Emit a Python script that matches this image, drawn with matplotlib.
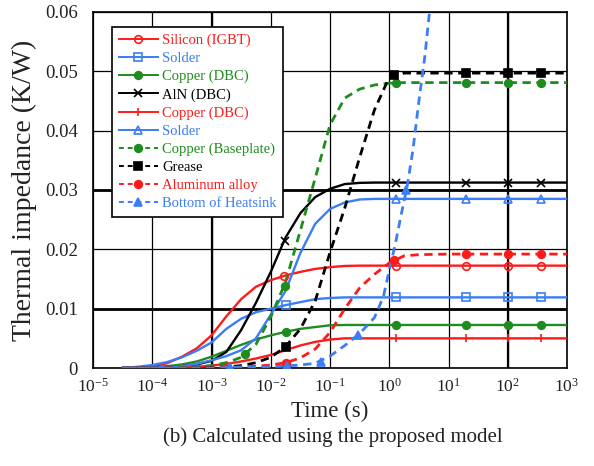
import numpy as np
import matplotlib
matplotlib.use("Agg")
import matplotlib.pyplot as plt
from matplotlib.lines import Line2D

plt.rcParams['font.family'] = ['Liberation Serif', 'DejaVu Serif']
plt.rcParams['mathtext.fontset'] = 'stix'

# common time grid (log10 of seconds)
log_t = [-4.5, -4.25, -4.0, -3.75, -3.5, -3.25, -3.0, -2.75, -2.5, -2.25, -2.0, -1.75,
         -1.5, -1.25, -1.0, -0.75, -0.5, -0.25, 0.0, 0.25, 0.5, 1.0, 2.0, 3.0]

silicon = [0, 0.0001, 0.0003, 0.0008, 0.0019, 0.0033, 0.0055, 0.0087, 0.0116, 0.0137, 0.0148, 0.0156,
           0.0162, 0.0167, 0.0170, 0.0172, 0.01725, 0.01725, 0.01725, 0.01725, 0.01725, 0.01725, 0.01725, 0.01725]
solder1 = [0, 0.0002, 0.0005, 0.0010, 0.0018, 0.0029, 0.0043, 0.0066, 0.0083, 0.0094, 0.0100, 0.0106,
           0.0111, 0.0116, 0.0118, 0.0119, 0.0119, 0.0119, 0.0119, 0.0119, 0.0119, 0.0119, 0.0119, 0.0119]
copper_dbc1 = [0, 0, 0.0001, 0.0003, 0.0006, 0.0011, 0.0019, 0.0029, 0.0039, 0.0048, 0.0055, 0.0061,
               0.0066, 0.0069, 0.0072, 0.00725, 0.00725, 0.00725, 0.00725, 0.00725, 0.00725, 0.00725, 0.00725, 0.00725]
aln = [0, 0, 0.0001, 0.0002, 0.0003, 0.0006, 0.0012, 0.0027, 0.0064, 0.0110, 0.0162, 0.0220,
       0.0261, 0.0288, 0.0302, 0.0310, 0.0312, 0.03125, 0.03125, 0.03125, 0.03125, 0.03125, 0.03125, 0.03125]
copper_dbc2 = [0, 0, 0, 0, 0.0001, 0.0002, 0.0004, 0.0007, 0.0011, 0.0016, 0.0022, 0.0030,
               0.0038, 0.0044, 0.0048, 0.0050, 0.0050, 0.0050, 0.0050, 0.0050, 0.0050, 0.0050, 0.0050, 0.0050]
solder2 = [0, 0, 0.0001, 0.0002, 0.0003, 0.0007, 0.0013, 0.0020, 0.0030, 0.0050, 0.0090, 0.0130,
           0.0194, 0.0243, 0.0268, 0.0279, 0.0284, 0.0285, 0.0285, 0.0285, 0.0285, 0.0285, 0.0285, 0.0285]
copper_base = [0, 0, 0, 0, 0.0001, 0.0002, 0.0004, 0.0009, 0.0018, 0.0040, 0.0086, 0.0145,
               0.0232, 0.0320, 0.0410, 0.0455, 0.0470, 0.0477, 0.0480, 0.0481, 0.0481, 0.0481, 0.0481, 0.0481]
grease = [0, 0, 0, 0, 0, 0, 0.0001, 0.0002, 0.0004, 0.0009, 0.0018, 0.0036,
          0.0066, 0.0113, 0.0195, 0.0270, 0.0355, 0.0435, 0.0490, 0.0497, 0.0497, 0.0497, 0.0497, 0.0497]
aluminum = [0, 0, 0, 0, 0, 0, 0, 0.0001, 0.0002, 0.0003, 0.0005, 0.0009,
            0.0017, 0.0032, 0.0060, 0.0100, 0.0135, 0.0158, 0.0177, 0.0189, 0.0191, 0.0192, 0.0192, 0.0192]

# heatsink bottom has its own grid (steep rise around 1 s)
heatsink_log_t = [-4.5, -3.0, -2.5, -2.0, -1.5, -1.25, -1.0, -0.75, -0.5, -0.25, -0.1,
                  0.0, 0.1, 0.2, 0.3, 0.4, 0.5, 0.6, 0.7]
heatsink = [0, 0, 0.0001, 0.0002, 0.0005, 0.0008, 0.0020, 0.0038, 0.0058, 0.0085, 0.0120,
            0.0165, 0.0208, 0.0258, 0.0305, 0.0368, 0.0450, 0.0525, 0.0620]

# marker positions (log10 t, value)
late_t = [0.11, 1.29, 2.01, 2.56]
marks = {
    'silicon': ([-1.78] + late_t, [0.0155] + [0.01725] * 4),
    'solder1': ([-1.75] + late_t, [0.0106] + [0.0119] * 4),
    'copper_dbc1': ([-1.75] + late_t, [0.0061] + [0.00725] * 4),
    'aln': ([-1.76] + late_t, [0.0214] + [0.03125] * 4),
    'copper_dbc2': (late_t, [0.0050] * 4),
    'solder2': (late_t, [0.0285] * 4),
    'copper_base': ([-2.43, -1.76] + late_t, [0.0024, 0.0138] + [0.0481] * 4),
    'grease': ([-1.75, 0.08] + late_t[1:], [0.0036, 0.0494] + [0.0497] * 3),
    'aluminum': ([-1.75, 0.08] + late_t[1:], [0.0009, 0.0182] + [0.0192] * 3),
    'heatsink': ([-2.68, -1.73, -1.16, -0.52, 0.28], [0.0002, 0.0004, 0.0010, 0.0056, 0.0300]),
}

labels = ['Silicon (IGBT)', 'Solder', 'Copper (DBC)', 'AlN (DBC)', 'Copper (DBC)',
          'Solder', 'Copper (Baseplate)', 'Grease', 'Aluminum alloy', 'Bottom of Heatsink']

RED, BLUE, GREEN, BLACK = '#ff1a1a', '#3a7df5', '#1e8c1e', '#000000'

series = [
    ('silicon', log_t, silicon, RED, '-', 'o', 'none'),
    ('solder1', log_t, solder1, BLUE, '-', 's', 'none'),
    ('copper_dbc1', log_t, copper_dbc1, GREEN, '-', 'o', GREEN),
    ('aln', log_t, aln, BLACK, '-', 'x', BLACK),
    ('copper_dbc2', log_t, copper_dbc2, RED, '-', '|', RED),
    ('solder2', log_t, solder2, BLUE, '-', '^', 'none'),
    ('copper_base', log_t, copper_base, GREEN, '--', 'o', GREEN),
    ('grease', log_t, grease, BLACK, '--', 's', BLACK),
    ('aluminum', log_t, aluminum, RED, '--', 'o', RED),
    ('heatsink', heatsink_log_t, heatsink, BLUE, '--', '^', BLUE),
]

fig = plt.figure(figsize=(5.94, 4.66), dpi=100)
ax = fig.add_axes([0.1566, 0.2103, 0.798, 0.764])

handles = []
for key, lt, z, col, ls, mk, mfc in series:
    t = 10 ** np.array(lt)
    lw = 1.7 if ls == '-' else 2.0
    ax.plot(t, z, color=col, ls=ls, lw=lw, dashes=(3, 2) if ls == '--' else (None, None), zorder=3)
    mt, mz = marks[key]
    ax.plot(10 ** np.array(mt), mz, ls='none', marker=mk, ms=5.5, mec=col, mfc=mfc,
            mew=1.2, color=col, zorder=4)
    h = Line2D([], [], color=col, lw=1.4, ls=ls, marker=mk, ms=5.5, mec=col, mfc=mfc, mew=1.2)
    if ls == '--':
        h.set_dashes((2.5, 2))
    handles.append(h)

ax.set_xscale('log')
ax.set_xlim(1e-5, 1e3)
ax.set_ylim(0, 0.06)
ax.set_xticks([10.0 ** k for k in range(-5, 4)])
ax.set_xticklabels([r'$\mathregular{10^{%d}}$' % k for k in range(-5, 4)])
ax.set_yticks([0, 0.01, 0.02, 0.03, 0.04, 0.05, 0.06])
ax.set_yticklabels(['0', '0.01', '0.02', '0.03', '0.04', '0.05', '0.06'])
ax.minorticks_off()
ax.tick_params(length=0, colors='#222222')
ax.tick_params(axis='y', pad=11, labelsize=13.5)
ax.tick_params(axis='x', pad=7, labelsize=12.5)

ax.grid(True, which='major', color='black', lw=0.9, zorder=1)
for yv in [0.01, 0.03]:
    ax.axhline(yv, color='black', lw=2, zorder=1)
for xv in [1e-3, 1e2]:
    ax.axvline(xv, color='black', lw=1.6, zorder=1)
for s in ax.spines.values():
    s.set_linewidth(1.2)

ax.set_xlabel('Time (s)', fontsize=16.5, color='#222222', labelpad=4)
ax.set_ylabel('Thermal impedance (K/W)', fontsize=20, color='#222222', labelpad=6)

leg = ax.legend(handles, labels, loc='upper left', bbox_to_anchor=(0.04, 0.958),
                borderaxespad=0, fontsize=10.5, numpoints=1, handlelength=2.7,
                labelspacing=0.33, handletextpad=0.3, fancybox=False, framealpha=1,
                edgecolor='black', borderpad=0.45)
leg.get_frame().set_linewidth(1.2)
for txt, (key, lt, z, col, ls, mk, mfc) in zip(leg.get_texts(), series):
    txt.set_color(col)

fig.text(0.56, 0.062, '(b) Calculated using the proposed model', ha='center', va='center',
         fontsize=15, color='#222222')

fig.savefig('out.png', dpi=100)
